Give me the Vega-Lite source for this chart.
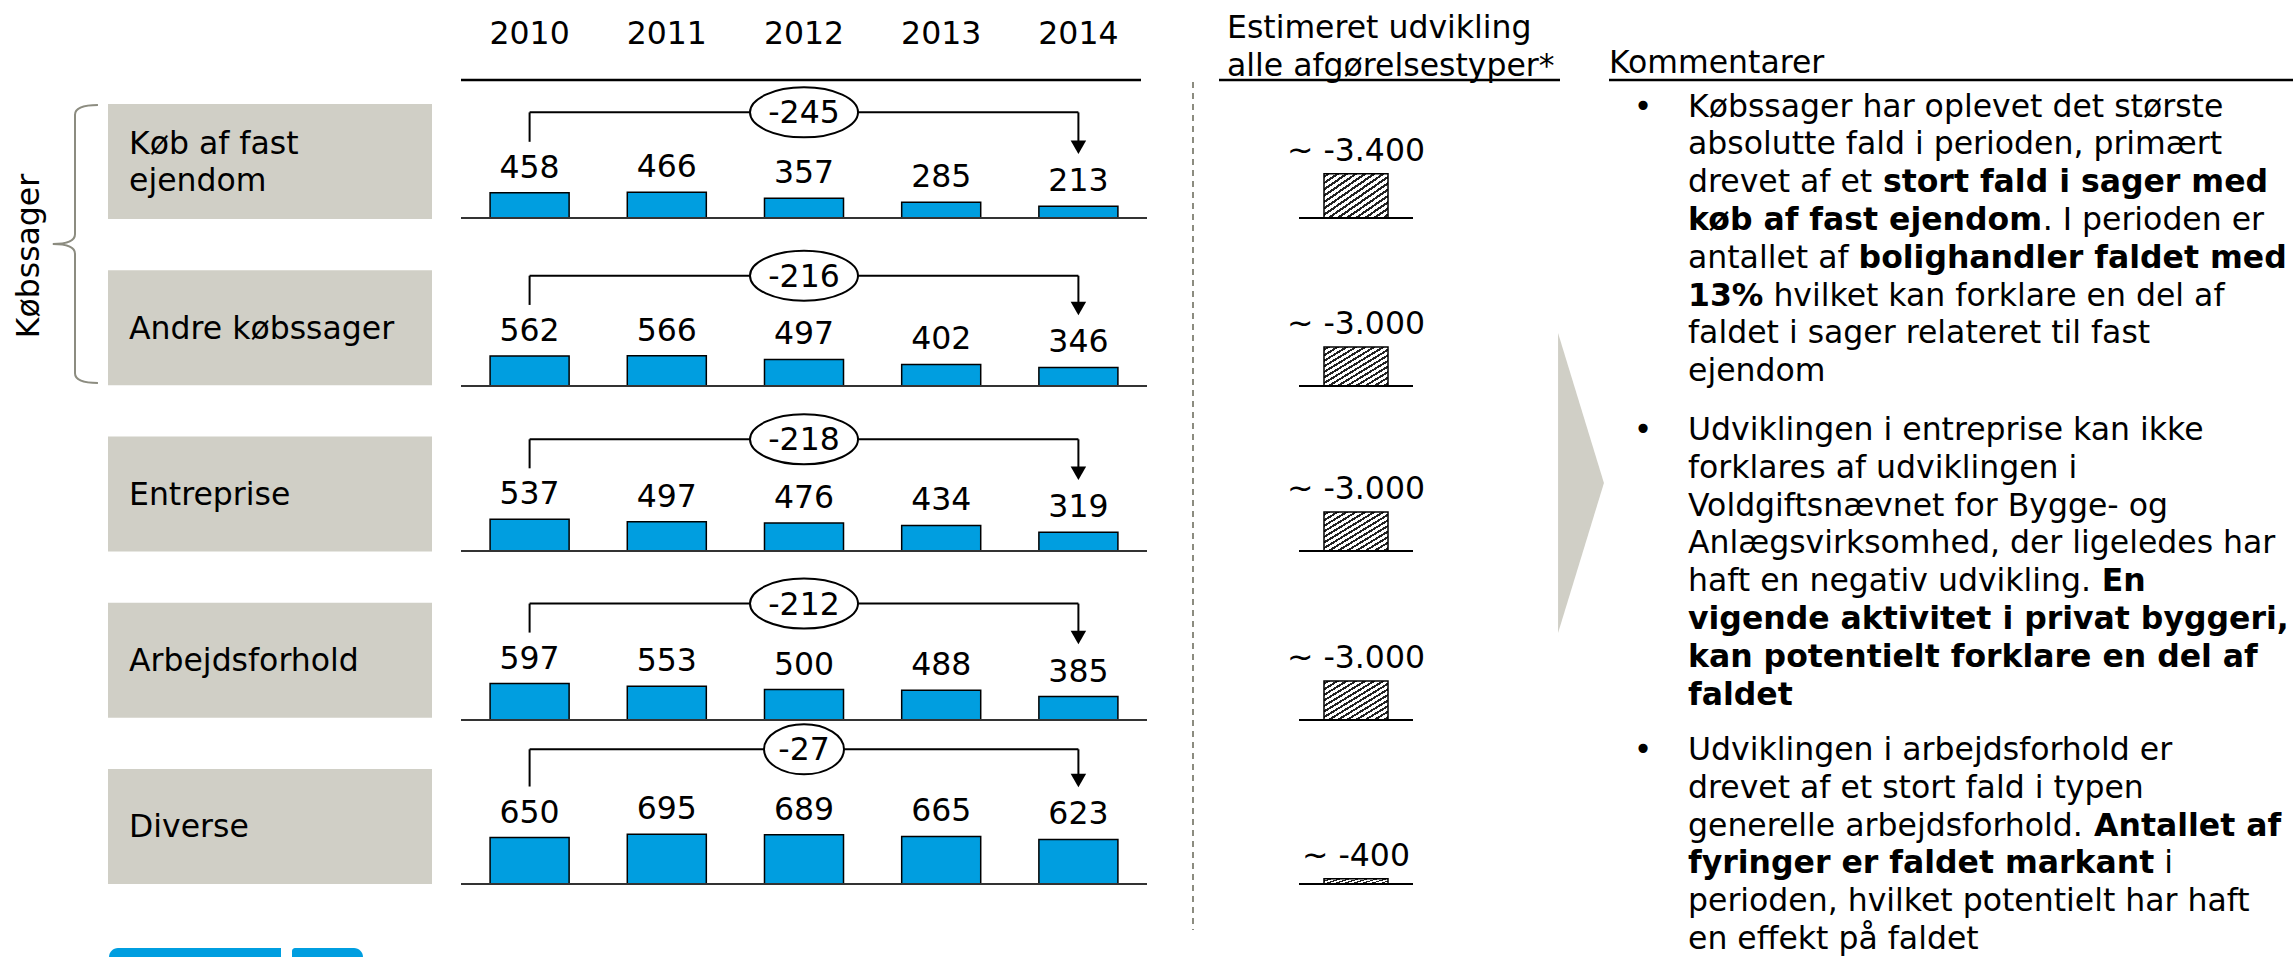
{
"$schema": "https://vega.github.io/schema/vega-lite/v6.json",
"width": 2293, "height": 957, "autosize": "none", "padding": 0, "background": "white",
"config": {"view": {"stroke": null}, "font": "DejaVu Sans", "text": {"font": "DejaVu Sans", "fontSize": 31.5, "color": "#000"}, "rule": {"color": "#000"}, "line": {"color": "#000"}},
"datasets": {
"bars": [
{"cat": "Køb af fast ejendom", "year": "2010", "value": 458},
{"cat": "Køb af fast ejendom", "year": "2011", "value": 466},
{"cat": "Køb af fast ejendom", "year": "2012", "value": 357},
{"cat": "Køb af fast ejendom", "year": "2013", "value": 285},
{"cat": "Køb af fast ejendom", "year": "2014", "value": 213},
{"cat": "Andre købssager", "year": "2010", "value": 562},
{"cat": "Andre købssager", "year": "2011", "value": 566},
{"cat": "Andre købssager", "year": "2012", "value": 497},
{"cat": "Andre købssager", "year": "2013", "value": 402},
{"cat": "Andre købssager", "year": "2014", "value": 346},
{"cat": "Entreprise", "year": "2010", "value": 537},
{"cat": "Entreprise", "year": "2011", "value": 497},
{"cat": "Entreprise", "year": "2012", "value": 476},
{"cat": "Entreprise", "year": "2013", "value": 434},
{"cat": "Entreprise", "year": "2014", "value": 319},
{"cat": "Arbejdsforhold", "year": "2010", "value": 597},
{"cat": "Arbejdsforhold", "year": "2011", "value": 553},
{"cat": "Arbejdsforhold", "year": "2012", "value": 500},
{"cat": "Arbejdsforhold", "year": "2013", "value": 488},
{"cat": "Arbejdsforhold", "year": "2014", "value": 385},
{"cat": "Diverse", "year": "2010", "value": 650},
{"cat": "Diverse", "year": "2011", "value": 695},
{"cat": "Diverse", "year": "2012", "value": 689},
{"cat": "Diverse", "year": "2013", "value": 665},
{"cat": "Diverse", "year": "2014", "value": 623}
],
"diffs": [
{"cat": "Køb af fast ejendom", "diff": -245},
{"cat": "Andre købssager", "diff": -216},
{"cat": "Entreprise", "diff": -218},
{"cat": "Arbejdsforhold", "diff": -212},
{"cat": "Diverse", "diff": -27}
],
"est": [
{"cat": "Køb af fast ejendom", "est": -3400, "label": "~ -3.400"},
{"cat": "Andre købssager", "est": -3000, "label": "~ -3.000"},
{"cat": "Entreprise", "est": -3000, "label": "~ -3.000"},
{"cat": "Arbejdsforhold", "est": -3000, "label": "~ -3.000"},
{"cat": "Diverse", "est": -400, "label": "~ -400"}
],
"cats": [
{"cat": "Køb af fast ejendom", "label": "Køb af fast\nejendom", "lines": 2},
{"cat": "Andre købssager", "label": "Andre købssager", "lines": 1},
{"cat": "Entreprise", "label": "Entreprise", "lines": 1},
{"cat": "Arbejdsforhold", "label": "Arbejdsforhold", "lines": 1},
{"cat": "Diverse", "label": "Diverse", "lines": 1}
],
"comments": [
{"p": 1, "ln": 0, "txt": "Købssager har oplevet det største", "bold": false, "tail": 0},
{"p": 1, "ln": 1, "txt": "absolutte fald i perioden, primært", "bold": false, "tail": 0},
{"p": 1, "ln": 2, "txt": "drevet af et", "bold": false, "tail": 0},
{"p": 1, "ln": 2, "txt": "stort fald i sager med", "bold": true, "tail": 1},
{"p": 1, "ln": 3, "txt": "køb af fast ejendom", "bold": true, "tail": 0},
{"p": 1, "ln": 3, "txt": ". I perioden er", "bold": false, "tail": 2},
{"p": 1, "ln": 4, "txt": "antallet af", "bold": false, "tail": 0},
{"p": 1, "ln": 4, "txt": "bolighandler faldet med", "bold": true, "tail": 3},
{"p": 1, "ln": 5, "txt": "13%", "bold": true, "tail": 0},
{"p": 1, "ln": 5, "txt": "hvilket kan forklare en del af", "bold": false, "tail": 4},
{"p": 1, "ln": 6, "txt": "faldet i sager relateret til fast", "bold": false, "tail": 0},
{"p": 1, "ln": 7, "txt": "ejendom", "bold": false, "tail": 0},
{"p": 2, "ln": 0, "txt": "Udviklingen i entreprise kan ikke", "bold": false, "tail": 0},
{"p": 2, "ln": 1, "txt": "forklares af udviklingen i", "bold": false, "tail": 0},
{"p": 2, "ln": 2, "txt": "Voldgiftsnævnet for Bygge- og", "bold": false, "tail": 0},
{"p": 2, "ln": 3, "txt": "Anlægsvirksomhed, der ligeledes har", "bold": false, "tail": 0},
{"p": 2, "ln": 4, "txt": "haft en negativ udvikling.", "bold": false, "tail": 0},
{"p": 2, "ln": 4, "txt": "En", "bold": true, "tail": 5},
{"p": 2, "ln": 5, "txt": "vigende aktivitet i privat byggeri,", "bold": true, "tail": 0},
{"p": 2, "ln": 6, "txt": "kan potentielt forklare en del af", "bold": true, "tail": 0},
{"p": 2, "ln": 7, "txt": "faldet", "bold": true, "tail": 0},
{"p": 3, "ln": 0, "txt": "Udviklingen i arbejdsforhold er", "bold": false, "tail": 0},
{"p": 3, "ln": 1, "txt": "drevet af et stort fald i typen", "bold": false, "tail": 0},
{"p": 3, "ln": 2, "txt": "generelle arbejdsforhold.", "bold": false, "tail": 0},
{"p": 3, "ln": 2, "txt": "Antallet af", "bold": true, "tail": 6},
{"p": 3, "ln": 3, "txt": "fyringer er faldet markant", "bold": true, "tail": 0},
{"p": 3, "ln": 3, "txt": "i", "bold": false, "tail": 7},
{"p": 3, "ln": 4, "txt": "perioden, hvilket potentielt har haft", "bold": false, "tail": 0},
{"p": 3, "ln": 5, "txt": "en effekt på faldet", "bold": false, "tail": 0}
]
},
"resolve": {"scale": {"x": "independent", "y": "independent"}},
"layer": [
{"data": {"name": "cats"}, "mark": {"type": "rect", "color": "#D0CFC6"},
 "encoding": {"y": {"field": "cat", "type": "nominal", "scale": {"type": "band", "domain": ["Køb af fast ejendom", "Andre købssager", "Entreprise", "Arbejdsforhold", "Diverse"], "range": [104, 884], "paddingInner": 0.308, "paddingOuter": 0}, "axis": null},
  "x": {"value": 108}, "x2": {"value": 432}}},
{"data": {"name": "cats"}, "transform": [{"filter": "datum.lines === 1"}], "mark": {"type": "text", "align": "left", "baseline": "middle", "dy": 2},
 "encoding": {"y": {"field": "cat", "type": "nominal", "scale": {"type": "band", "domain": ["Køb af fast ejendom", "Andre købssager", "Entreprise", "Arbejdsforhold", "Diverse"], "range": [104, 884], "paddingInner": 0.308, "paddingOuter": 0}, "axis": null},
  "x": {"value": 129}, "text": {"field": "label"}}},
{"data": {"name": "cats"}, "transform": [{"filter": "datum.lines === 2"}], "mark": {"type": "text", "align": "left", "baseline": "middle", "lineBreak": "\n", "lineHeight": 37, "dy": -16.5},
 "encoding": {"y": {"field": "cat", "type": "nominal", "scale": {"type": "band", "domain": ["Køb af fast ejendom", "Andre købssager", "Entreprise", "Arbejdsforhold", "Diverse"], "range": [104, 884], "paddingInner": 0.308, "paddingOuter": 0}, "axis": null},
  "x": {"value": 129}, "text": {"field": "label"}}},
{"data": {"values": [{"t": "Købssager"}]}, "mark": {"type": "text", "angle": 270, "align": "center", "baseline": "middle"},
 "encoding": {"x": {"value": 30}, "y": {"value": 256}, "text": {"field": "t"}}},
{"data": {"values": [{"t": "brace"}]}, "mark": {"type": "point", "shape": "M0.165,-1Q0,-1 0,-0.93L0,-0.07Q0,0 -0.16,0Q0,0 0,0.07L0,0.93Q0,1 0.165,1", "size": 77284, "filled": false, "stroke": "#8C8C80", "strokeWidth": 2, "opacity": 1},
 "encoding": {"x": {"value": 75}, "y": {"value": 244}}},
{"data": {"values": [{"t": "arrow"}]}, "mark": {"type": "point", "shape": "M-0.153,-1L0.153,0L-0.153,1Z", "size": 90000, "filled": true, "fill": "#D0CFC6", "strokeWidth": 0, "opacity": 1},
 "encoding": {"x": {"value": 1581}, "y": {"value": 483}}},
{"data": {"values": [{"t": "sep"}]}, "mark": {"type": "rule", "color": "#8C8C80", "strokeWidth": 2, "strokeDash": [6, 5]},
 "encoding": {"x": {"value": 1193}, "y": {"value": 82}, "y2": {"value": 930}}},
{"data": {"values": [{"t": "r1"}]}, "mark": {"type": "rule", "strokeWidth": 2.5},
 "encoding": {"x": {"value": 461}, "x2": {"value": 1141}, "y": {"value": 80}}},
{"data": {"values": [{"t": "r2"}]}, "mark": {"type": "rule", "strokeWidth": 2.5},
 "encoding": {"x": {"value": 1219}, "x2": {"value": 1560}, "y": {"value": 80}}},
{"data": {"values": [{"t": "r3"}]}, "mark": {"type": "rule", "strokeWidth": 2.5},
 "encoding": {"x": {"value": 1609}, "x2": {"value": 2293}, "y": {"value": 80}}},
{"data": {"name": "bars"}, "transform": [{"filter": "datum.cat === 'Diverse'"}], "mark": {"type": "text", "baseline": "middle"},
 "encoding": {"x": {"field": "year", "type": "nominal", "scale": {"domain": ["2010","2011","2012","2013","2014"], "range": [461, 1147], "paddingInner": 0.424, "paddingOuter": 0.212}, "axis": null}, "y": {"value": 35}, "text": {"field": "year"}}},
{"data": {"values": [{"t": "Estimeret udvikling\nalle afgørelsestyper*"}]}, "mark": {"type": "text", "align": "left", "baseline": "middle", "lineBreak": "\n", "lineHeight": 38},
 "encoding": {"x": {"value": 1227}, "y": {"value": 29}, "text": {"field": "t"}}},
{"data": {"values": [{"t": "Kommentarer"}]}, "mark": {"type": "text", "align": "left", "baseline": "alphabetic"},
 "encoding": {"x": {"value": 1609}, "y": {"value": 73}, "text": {"field": "t"}}},
{"data": {"values": [{"t": "logo1"}]}, "mark": {"type": "rect", "color": "#009EE0", "cornerRadiusTopLeft": 10},
 "encoding": {"x": {"value": 109}, "x2": {"value": 281}, "y": {"value": 948}, "y2": {"value": 966}}},
{"data": {"values": [{"t": "logo2"}]}, "mark": {"type": "rect", "color": "#009EE0", "cornerRadiusTopRight": 10, "cornerRadiusTopLeft": 3},
 "encoding": {"x": {"value": 292}, "x2": {"value": 363}, "y": {"value": 948}, "y2": {"value": 966}}},

{"data": {"name": "comments"}, "transform": [{"filter": "datum.p === 1"}],
 "encoding": {"x": {"value": 1688}, "y": {"field": "ln", "type": "quantitative", "scale": {"domain": [0, 7], "range": [116.5, 381.1]}, "axis": null}, "text": {"field": "txt"}},
 "layer": [
  {"transform": [{"filter": "datum.tail === 0 && !datum.bold"}], "mark": {"type": "text", "align": "left", "baseline": "alphabetic"}},
  {"transform": [{"filter": "datum.tail === 0 && datum.bold"}], "mark": {"type": "text", "align": "left", "baseline": "alphabetic", "fontWeight": "bold"}},
  {"transform": [{"filter": "datum.ln === 0"}], "mark": {"type": "text", "align": "center", "baseline": "alphabetic"}, "encoding": {"x": {"value": 1643}, "text": {"value": "•"}}},
  {"transform": [{"filter": "datum.tail === 1"}], "mark": {"type": "text", "align": "left", "baseline": "alphabetic", "fontWeight": "bold", "dx": 194.9}},
  {"transform": [{"filter": "datum.tail === 2"}], "mark": {"type": "text", "align": "left", "baseline": "alphabetic", "dx": 354.7}},
  {"transform": [{"filter": "datum.tail === 3"}], "mark": {"type": "text", "align": "left", "baseline": "alphabetic", "fontWeight": "bold", "dx": 170.6}},
  {"transform": [{"filter": "datum.tail === 4"}], "mark": {"type": "text", "align": "left", "baseline": "alphabetic", "dx": 85.4}}
 ]},
{"data": {"name": "comments"}, "transform": [{"filter": "datum.p === 2"}],
 "encoding": {"x": {"value": 1688}, "y": {"field": "ln", "type": "quantitative", "scale": {"domain": [0, 7], "range": [440, 704.6]}, "axis": null}, "text": {"field": "txt"}},
 "layer": [
  {"transform": [{"filter": "datum.tail === 0 && !datum.bold"}], "mark": {"type": "text", "align": "left", "baseline": "alphabetic"}},
  {"transform": [{"filter": "datum.tail === 0 && datum.bold"}], "mark": {"type": "text", "align": "left", "baseline": "alphabetic", "fontWeight": "bold"}},
  {"transform": [{"filter": "datum.ln === 0"}], "mark": {"type": "text", "align": "center", "baseline": "alphabetic"}, "encoding": {"x": {"value": 1643}, "text": {"value": "•"}}},
  {"transform": [{"filter": "datum.tail === 5"}], "mark": {"type": "text", "align": "left", "baseline": "alphabetic", "fontWeight": "bold", "dx": 413.7}}
 ]},
{"data": {"name": "comments"}, "transform": [{"filter": "datum.p === 3"}],
 "encoding": {"x": {"value": 1688}, "y": {"field": "ln", "type": "quantitative", "scale": {"domain": [0, 7], "range": [760, 1024.6]}, "axis": null}, "text": {"field": "txt"}},
 "layer": [
  {"transform": [{"filter": "datum.tail === 0 && !datum.bold"}], "mark": {"type": "text", "align": "left", "baseline": "alphabetic"}},
  {"transform": [{"filter": "datum.tail === 0 && datum.bold"}], "mark": {"type": "text", "align": "left", "baseline": "alphabetic", "fontWeight": "bold"}},
  {"transform": [{"filter": "datum.ln === 0"}], "mark": {"type": "text", "align": "center", "baseline": "alphabetic"}, "encoding": {"x": {"value": 1643}, "text": {"value": "•"}}},
  {"transform": [{"filter": "datum.tail === 6"}], "mark": {"type": "text", "align": "left", "baseline": "alphabetic", "fontWeight": "bold", "dx": 406.1}},
  {"transform": [{"filter": "datum.tail === 7"}], "mark": {"type": "text", "align": "left", "baseline": "alphabetic", "dx": 476.3}}
 ]},

{"data": {"name": "bars"},
 "transform": [{"filter": "datum.cat === 'Køb af fast ejendom'"}, {"joinaggregate": [{"op": "max", "field": "value", "as": "maxv"}]}, {"lookup": "cat", "from": {"data": {"name": "diffs"}, "key": "cat", "fields": ["diff"]}}],
 "encoding": {"x": {"field": "year", "type": "nominal", "scale": {"domain": ["2010","2011","2012","2013","2014"], "range": [461, 1147], "paddingInner": 0.424, "paddingOuter": 0.212}, "axis": null},
  "y": {"field": "value", "type": "quantitative", "scale": {"domain": [0, 2000], "range": [218, 108]}, "axis": null}},
 "layer": [
  {"mark": {"type": "bar", "fill": "#009EE0", "stroke": "#000", "strokeWidth": 1.5}},
  {"mark": {"type": "text", "baseline": "middle", "dy": -24}, "encoding": {"text": {"field": "value", "type": "nominal"}}},
  {"transform": [{"filter": "datum.year === '2010'"}], "mark": {"type": "rule", "color": "#333", "strokeWidth": 2}, "encoding": {"x": {"value": 461}, "x2": {"value": 1147}, "y": {"datum": 0, "type": "quantitative", "scale": {"domain": [0, 2000], "range": [218, 108]}, "axis": null}}},
  {"transform": [{"filter": "datum.year === '2010'"}], "mark": {"type": "rule", "strokeWidth": 2, "yOffset": -51, "y2Offset": -80}, "encoding": {"y2": {"field": "maxv"}}},
  {"transform": [{"filter": "datum.year === '2014'"}], "mark": {"type": "rule", "strokeWidth": 2, "yOffset": -64, "y2Offset": -80}, "encoding": {"y2": {"field": "maxv"}}},
  {"transform": [{"filter": "datum.year === '2010' || datum.year === '2014'"}], "mark": {"type": "line", "strokeWidth": 2, "yOffset": -80}, "encoding": {"y": {"field": "maxv", "type": "quantitative", "scale": {"domain": [0, 2000], "range": [218, 108]}, "axis": null}}},
  {"transform": [{"filter": "datum.year === '2014'"}], "mark": {"type": "point", "shape": "triangle-down", "size": 240, "filled": true, "color": "#000", "opacity": 1, "yOffset": -59}},
  {"transform": [{"filter": "datum.year === '2012'"}], "mark": {"type": "point", "shape": "M-1,0A1,0.463 0 1,1 1,0A1,0.463 0 1,1 -1,0Z", "size": 11664, "filled": true, "fill": "#fff", "stroke": "#000", "strokeWidth": 2, "opacity": 1, "yOffset": -80}, "encoding": {"y": {"field": "maxv", "type": "quantitative", "scale": {"domain": [0, 2000], "range": [218, 108]}, "axis": null}}},
  {"transform": [{"filter": "datum.year === '2012'"}], "mark": {"type": "text", "baseline": "middle", "dy": 2, "yOffset": -80}, "encoding": {"y": {"field": "maxv", "type": "quantitative", "scale": {"domain": [0, 2000], "range": [218, 108]}, "axis": null}, "text": {"field": "diff", "type": "nominal"}}}
 ]},

{"data": {"name": "bars"},
 "transform": [{"filter": "datum.cat === 'Andre købssager'"}, {"joinaggregate": [{"op": "max", "field": "value", "as": "maxv"}]}, {"lookup": "cat", "from": {"data": {"name": "diffs"}, "key": "cat", "fields": ["diff"]}}],
 "encoding": {"x": {"field": "year", "type": "nominal", "scale": {"domain": ["2010","2011","2012","2013","2014"], "range": [461, 1147], "paddingInner": 0.424, "paddingOuter": 0.212}, "axis": null},
  "y": {"field": "value", "type": "quantitative", "scale": {"domain": [0, 2000], "range": [386, 279]}, "axis": null}},
 "layer": [
  {"mark": {"type": "bar", "fill": "#009EE0", "stroke": "#000", "strokeWidth": 1.5}},
  {"mark": {"type": "text", "baseline": "middle", "dy": -24}, "encoding": {"text": {"field": "value", "type": "nominal"}}},
  {"transform": [{"filter": "datum.year === '2010'"}], "mark": {"type": "rule", "color": "#333", "strokeWidth": 2}, "encoding": {"x": {"value": 461}, "x2": {"value": 1147}, "y": {"datum": 0, "type": "quantitative", "scale": {"domain": [0, 2000], "range": [386, 279]}, "axis": null}}},
  {"transform": [{"filter": "datum.year === '2010'"}], "mark": {"type": "rule", "strokeWidth": 2, "yOffset": -51, "y2Offset": -80}, "encoding": {"y2": {"field": "maxv"}}},
  {"transform": [{"filter": "datum.year === '2014'"}], "mark": {"type": "rule", "strokeWidth": 2, "yOffset": -64, "y2Offset": -80}, "encoding": {"y2": {"field": "maxv"}}},
  {"transform": [{"filter": "datum.year === '2010' || datum.year === '2014'"}], "mark": {"type": "line", "strokeWidth": 2, "yOffset": -80}, "encoding": {"y": {"field": "maxv", "type": "quantitative", "scale": {"domain": [0, 2000], "range": [386, 279]}, "axis": null}}},
  {"transform": [{"filter": "datum.year === '2014'"}], "mark": {"type": "point", "shape": "triangle-down", "size": 240, "filled": true, "color": "#000", "opacity": 1, "yOffset": -59}},
  {"transform": [{"filter": "datum.year === '2012'"}], "mark": {"type": "point", "shape": "M-1,0A1,0.463 0 1,1 1,0A1,0.463 0 1,1 -1,0Z", "size": 11664, "filled": true, "fill": "#fff", "stroke": "#000", "strokeWidth": 2, "opacity": 1, "yOffset": -80}, "encoding": {"y": {"field": "maxv", "type": "quantitative", "scale": {"domain": [0, 2000], "range": [386, 279]}, "axis": null}}},
  {"transform": [{"filter": "datum.year === '2012'"}], "mark": {"type": "text", "baseline": "middle", "dy": 2, "yOffset": -80}, "encoding": {"y": {"field": "maxv", "type": "quantitative", "scale": {"domain": [0, 2000], "range": [386, 279]}, "axis": null}, "text": {"field": "diff", "type": "nominal"}}}
 ]},

{"data": {"name": "bars"},
 "transform": [{"filter": "datum.cat === 'Entreprise'"}, {"joinaggregate": [{"op": "max", "field": "value", "as": "maxv"}]}, {"lookup": "cat", "from": {"data": {"name": "diffs"}, "key": "cat", "fields": ["diff"]}}],
 "encoding": {"x": {"field": "year", "type": "nominal", "scale": {"domain": ["2010","2011","2012","2013","2014"], "range": [461, 1147], "paddingInner": 0.424, "paddingOuter": 0.212}, "axis": null},
  "y": {"field": "value", "type": "quantitative", "scale": {"domain": [0, 2000], "range": [551, 433]}, "axis": null}},
 "layer": [
  {"mark": {"type": "bar", "fill": "#009EE0", "stroke": "#000", "strokeWidth": 1.5}},
  {"mark": {"type": "text", "baseline": "middle", "dy": -24}, "encoding": {"text": {"field": "value", "type": "nominal"}}},
  {"transform": [{"filter": "datum.year === '2010'"}], "mark": {"type": "rule", "color": "#333", "strokeWidth": 2}, "encoding": {"x": {"value": 461}, "x2": {"value": 1147}, "y": {"datum": 0, "type": "quantitative", "scale": {"domain": [0, 2000], "range": [551, 433]}, "axis": null}}},
  {"transform": [{"filter": "datum.year === '2010'"}], "mark": {"type": "rule", "strokeWidth": 2, "yOffset": -51, "y2Offset": -80}, "encoding": {"y2": {"field": "maxv"}}},
  {"transform": [{"filter": "datum.year === '2014'"}], "mark": {"type": "rule", "strokeWidth": 2, "yOffset": -64, "y2Offset": -80}, "encoding": {"y2": {"field": "maxv"}}},
  {"transform": [{"filter": "datum.year === '2010' || datum.year === '2014'"}], "mark": {"type": "line", "strokeWidth": 2, "yOffset": -80}, "encoding": {"y": {"field": "maxv", "type": "quantitative", "scale": {"domain": [0, 2000], "range": [551, 433]}, "axis": null}}},
  {"transform": [{"filter": "datum.year === '2014'"}], "mark": {"type": "point", "shape": "triangle-down", "size": 240, "filled": true, "color": "#000", "opacity": 1, "yOffset": -59}},
  {"transform": [{"filter": "datum.year === '2012'"}], "mark": {"type": "point", "shape": "M-1,0A1,0.463 0 1,1 1,0A1,0.463 0 1,1 -1,0Z", "size": 11664, "filled": true, "fill": "#fff", "stroke": "#000", "strokeWidth": 2, "opacity": 1, "yOffset": -80}, "encoding": {"y": {"field": "maxv", "type": "quantitative", "scale": {"domain": [0, 2000], "range": [551, 433]}, "axis": null}}},
  {"transform": [{"filter": "datum.year === '2012'"}], "mark": {"type": "text", "baseline": "middle", "dy": 2, "yOffset": -80}, "encoding": {"y": {"field": "maxv", "type": "quantitative", "scale": {"domain": [0, 2000], "range": [551, 433]}, "axis": null}, "text": {"field": "diff", "type": "nominal"}}}
 ]},

{"data": {"name": "bars"},
 "transform": [{"filter": "datum.cat === 'Arbejdsforhold'"}, {"joinaggregate": [{"op": "max", "field": "value", "as": "maxv"}]}, {"lookup": "cat", "from": {"data": {"name": "diffs"}, "key": "cat", "fields": ["diff"]}}],
 "encoding": {"x": {"field": "year", "type": "nominal", "scale": {"domain": ["2010","2011","2012","2013","2014"], "range": [461, 1147], "paddingInner": 0.424, "paddingOuter": 0.212}, "axis": null},
  "y": {"field": "value", "type": "quantitative", "scale": {"domain": [0, 2000], "range": [720, 598]}, "axis": null}},
 "layer": [
  {"mark": {"type": "bar", "fill": "#009EE0", "stroke": "#000", "strokeWidth": 1.5}},
  {"mark": {"type": "text", "baseline": "middle", "dy": -24}, "encoding": {"text": {"field": "value", "type": "nominal"}}},
  {"transform": [{"filter": "datum.year === '2010'"}], "mark": {"type": "rule", "color": "#333", "strokeWidth": 2}, "encoding": {"x": {"value": 461}, "x2": {"value": 1147}, "y": {"datum": 0, "type": "quantitative", "scale": {"domain": [0, 2000], "range": [720, 598]}, "axis": null}}},
  {"transform": [{"filter": "datum.year === '2010'"}], "mark": {"type": "rule", "strokeWidth": 2, "yOffset": -51, "y2Offset": -80}, "encoding": {"y2": {"field": "maxv"}}},
  {"transform": [{"filter": "datum.year === '2014'"}], "mark": {"type": "rule", "strokeWidth": 2, "yOffset": -64, "y2Offset": -80}, "encoding": {"y2": {"field": "maxv"}}},
  {"transform": [{"filter": "datum.year === '2010' || datum.year === '2014'"}], "mark": {"type": "line", "strokeWidth": 2, "yOffset": -80}, "encoding": {"y": {"field": "maxv", "type": "quantitative", "scale": {"domain": [0, 2000], "range": [720, 598]}, "axis": null}}},
  {"transform": [{"filter": "datum.year === '2014'"}], "mark": {"type": "point", "shape": "triangle-down", "size": 240, "filled": true, "color": "#000", "opacity": 1, "yOffset": -59}},
  {"transform": [{"filter": "datum.year === '2012'"}], "mark": {"type": "point", "shape": "M-1,0A1,0.463 0 1,1 1,0A1,0.463 0 1,1 -1,0Z", "size": 11664, "filled": true, "fill": "#fff", "stroke": "#000", "strokeWidth": 2, "opacity": 1, "yOffset": -80}, "encoding": {"y": {"field": "maxv", "type": "quantitative", "scale": {"domain": [0, 2000], "range": [720, 598]}, "axis": null}}},
  {"transform": [{"filter": "datum.year === '2012'"}], "mark": {"type": "text", "baseline": "middle", "dy": 2, "yOffset": -80}, "encoding": {"y": {"field": "maxv", "type": "quantitative", "scale": {"domain": [0, 2000], "range": [720, 598]}, "axis": null}, "text": {"field": "diff", "type": "nominal"}}}
 ]},

{"data": {"name": "bars"},
 "transform": [{"filter": "datum.cat === 'Diverse'"}, {"joinaggregate": [{"op": "max", "field": "value", "as": "maxv"}]}, {"lookup": "cat", "from": {"data": {"name": "diffs"}, "key": "cat", "fields": ["diff"]}}],
 "encoding": {"x": {"field": "year", "type": "nominal", "scale": {"domain": ["2010","2011","2012","2013","2014"], "range": [461, 1147], "paddingInner": 0.424, "paddingOuter": 0.212}, "axis": null},
  "y": {"field": "value", "type": "quantitative", "scale": {"domain": [0, 2000], "range": [884, 741]}, "axis": null}},
 "layer": [
  {"mark": {"type": "bar", "fill": "#009EE0", "stroke": "#000", "strokeWidth": 1.5}},
  {"mark": {"type": "text", "baseline": "middle", "dy": -24}, "encoding": {"text": {"field": "value", "type": "nominal"}}},
  {"transform": [{"filter": "datum.year === '2010'"}], "mark": {"type": "rule", "color": "#333", "strokeWidth": 2}, "encoding": {"x": {"value": 461}, "x2": {"value": 1147}, "y": {"datum": 0, "type": "quantitative", "scale": {"domain": [0, 2000], "range": [884, 741]}, "axis": null}}},
  {"transform": [{"filter": "datum.year === '2010'"}], "mark": {"type": "rule", "strokeWidth": 2, "yOffset": -51, "y2Offset": -85}, "encoding": {"y2": {"field": "maxv"}}},
  {"transform": [{"filter": "datum.year === '2014'"}], "mark": {"type": "rule", "strokeWidth": 2, "yOffset": -64, "y2Offset": -85}, "encoding": {"y2": {"field": "maxv"}}},
  {"transform": [{"filter": "datum.year === '2010' || datum.year === '2014'"}], "mark": {"type": "line", "strokeWidth": 2, "yOffset": -85}, "encoding": {"y": {"field": "maxv", "type": "quantitative", "scale": {"domain": [0, 2000], "range": [884, 741]}, "axis": null}}},
  {"transform": [{"filter": "datum.year === '2014'"}], "mark": {"type": "point", "shape": "triangle-down", "size": 240, "filled": true, "color": "#000", "opacity": 1, "yOffset": -59}},
  {"transform": [{"filter": "datum.year === '2012'"}], "mark": {"type": "point", "shape": "M-1,0A1,0.625 0 1,1 1,0A1,0.625 0 1,1 -1,0Z", "size": 6400, "filled": true, "fill": "#fff", "stroke": "#000", "strokeWidth": 2, "opacity": 1, "yOffset": -85}, "encoding": {"y": {"field": "maxv", "type": "quantitative", "scale": {"domain": [0, 2000], "range": [884, 741]}, "axis": null}}},
  {"transform": [{"filter": "datum.year === '2012'"}], "mark": {"type": "text", "baseline": "middle", "dy": 2, "yOffset": -85}, "encoding": {"y": {"field": "maxv", "type": "quantitative", "scale": {"domain": [0, 2000], "range": [884, 741]}, "axis": null}, "text": {"field": "diff", "type": "nominal"}}}
 ]},

{"data": {"name": "est"}, "transform": [{"filter": "datum.cat === 'Køb af fast ejendom'"}],
 "encoding": {"x": {"field": "cat", "type": "nominal", "scale": {"range": [1324, 1388], "paddingInner": 0, "paddingOuter": 0}, "axis": null},
  "y": {"field": "est", "type": "quantitative", "scale": {"domain": [0, -4000], "range": [218, 166]}, "axis": null}},
 "layer": [
  {"mark": {"type": "bar", "stroke": "#000", "strokeWidth": 1.5, "fill": {"gradient": "linear", "x1": 0, "y1": 0, "x2": 1, "y2": 1, "stops": [{"offset": 0, "color": "#fff"}, {"offset": 0.02, "color": "#fff"}, {"offset": 0.02, "color": "#222"}, {"offset": 0.05, "color": "#222"}, {"offset": 0.05, "color": "#fff"}, {"offset": 0.0914, "color": "#fff"}, {"offset": 0.0914, "color": "#222"}, {"offset": 0.1214, "color": "#222"}, {"offset": 0.1214, "color": "#fff"}, {"offset": 0.1629, "color": "#fff"}, {"offset": 0.1629, "color": "#222"}, {"offset": 0.1929, "color": "#222"}, {"offset": 0.1929, "color": "#fff"}, {"offset": 0.2343, "color": "#fff"}, {"offset": 0.2343, "color": "#222"}, {"offset": 0.2643, "color": "#222"}, {"offset": 0.2643, "color": "#fff"}, {"offset": 0.3057, "color": "#fff"}, {"offset": 0.3057, "color": "#222"}, {"offset": 0.3357, "color": "#222"}, {"offset": 0.3357, "color": "#fff"}, {"offset": 0.3771, "color": "#fff"}, {"offset": 0.3771, "color": "#222"}, {"offset": 0.4071, "color": "#222"}, {"offset": 0.4071, "color": "#fff"}, {"offset": 0.4486, "color": "#fff"}, {"offset": 0.4486, "color": "#222"}, {"offset": 0.4786, "color": "#222"}, {"offset": 0.4786, "color": "#fff"}, {"offset": 0.52, "color": "#fff"}, {"offset": 0.52, "color": "#222"}, {"offset": 0.55, "color": "#222"}, {"offset": 0.55, "color": "#fff"}, {"offset": 0.5914, "color": "#fff"}, {"offset": 0.5914, "color": "#222"}, {"offset": 0.6214, "color": "#222"}, {"offset": 0.6214, "color": "#fff"}, {"offset": 0.6629, "color": "#fff"}, {"offset": 0.6629, "color": "#222"}, {"offset": 0.6929, "color": "#222"}, {"offset": 0.6929, "color": "#fff"}, {"offset": 0.7343, "color": "#fff"}, {"offset": 0.7343, "color": "#222"}, {"offset": 0.7643, "color": "#222"}, {"offset": 0.7643, "color": "#fff"}, {"offset": 0.8057, "color": "#fff"}, {"offset": 0.8057, "color": "#222"}, {"offset": 0.8357, "color": "#222"}, {"offset": 0.8357, "color": "#fff"}, {"offset": 0.8771, "color": "#fff"}, {"offset": 0.8771, "color": "#222"}, {"offset": 0.9071, "color": "#222"}, {"offset": 0.9071, "color": "#fff"}, {"offset": 0.9486, "color": "#fff"}, {"offset": 0.9486, "color": "#222"}, {"offset": 0.9786, "color": "#222"}, {"offset": 0.9786, "color": "#fff"}, {"offset": 1, "color": "#fff"}]}}},
  {"mark": {"type": "text", "baseline": "middle", "dy": -22}, "encoding": {"text": {"field": "label"}}},
  {"mark": {"type": "rule", "strokeWidth": 2}, "encoding": {"x": {"value": 1299}, "x2": {"value": 1413}, "y": {"datum": 0, "type": "quantitative", "scale": {"domain": [0, -4000], "range": [218, 166]}, "axis": null}}}
 ]},
{"data": {"name": "est"}, "transform": [{"filter": "datum.cat === 'Andre købssager'"}],
 "encoding": {"x": {"field": "cat", "type": "nominal", "scale": {"range": [1324, 1388], "paddingInner": 0, "paddingOuter": 0}, "axis": null},
  "y": {"field": "est", "type": "quantitative", "scale": {"domain": [0, -4000], "range": [386, 334]}, "axis": null}},
 "layer": [
  {"mark": {"type": "bar", "stroke": "#000", "strokeWidth": 1.5, "fill": {"gradient": "linear", "x1": 0, "y1": 0, "x2": 1, "y2": 1, "stops": [{"offset": 0, "color": "#fff"}, {"offset": 0.02, "color": "#fff"}, {"offset": 0.02, "color": "#222"}, {"offset": 0.05, "color": "#222"}, {"offset": 0.05, "color": "#fff"}, {"offset": 0.0914, "color": "#fff"}, {"offset": 0.0914, "color": "#222"}, {"offset": 0.1214, "color": "#222"}, {"offset": 0.1214, "color": "#fff"}, {"offset": 0.1629, "color": "#fff"}, {"offset": 0.1629, "color": "#222"}, {"offset": 0.1929, "color": "#222"}, {"offset": 0.1929, "color": "#fff"}, {"offset": 0.2343, "color": "#fff"}, {"offset": 0.2343, "color": "#222"}, {"offset": 0.2643, "color": "#222"}, {"offset": 0.2643, "color": "#fff"}, {"offset": 0.3057, "color": "#fff"}, {"offset": 0.3057, "color": "#222"}, {"offset": 0.3357, "color": "#222"}, {"offset": 0.3357, "color": "#fff"}, {"offset": 0.3771, "color": "#fff"}, {"offset": 0.3771, "color": "#222"}, {"offset": 0.4071, "color": "#222"}, {"offset": 0.4071, "color": "#fff"}, {"offset": 0.4486, "color": "#fff"}, {"offset": 0.4486, "color": "#222"}, {"offset": 0.4786, "color": "#222"}, {"offset": 0.4786, "color": "#fff"}, {"offset": 0.52, "color": "#fff"}, {"offset": 0.52, "color": "#222"}, {"offset": 0.55, "color": "#222"}, {"offset": 0.55, "color": "#fff"}, {"offset": 0.5914, "color": "#fff"}, {"offset": 0.5914, "color": "#222"}, {"offset": 0.6214, "color": "#222"}, {"offset": 0.6214, "color": "#fff"}, {"offset": 0.6629, "color": "#fff"}, {"offset": 0.6629, "color": "#222"}, {"offset": 0.6929, "color": "#222"}, {"offset": 0.6929, "color": "#fff"}, {"offset": 0.7343, "color": "#fff"}, {"offset": 0.7343, "color": "#222"}, {"offset": 0.7643, "color": "#222"}, {"offset": 0.7643, "color": "#fff"}, {"offset": 0.8057, "color": "#fff"}, {"offset": 0.8057, "color": "#222"}, {"offset": 0.8357, "color": "#222"}, {"offset": 0.8357, "color": "#fff"}, {"offset": 0.8771, "color": "#fff"}, {"offset": 0.8771, "color": "#222"}, {"offset": 0.9071, "color": "#222"}, {"offset": 0.9071, "color": "#fff"}, {"offset": 0.9486, "color": "#fff"}, {"offset": 0.9486, "color": "#222"}, {"offset": 0.9786, "color": "#222"}, {"offset": 0.9786, "color": "#fff"}, {"offset": 1, "color": "#fff"}]}}},
  {"mark": {"type": "text", "baseline": "middle", "dy": -22}, "encoding": {"text": {"field": "label"}}},
  {"mark": {"type": "rule", "strokeWidth": 2}, "encoding": {"x": {"value": 1299}, "x2": {"value": 1413}, "y": {"datum": 0, "type": "quantitative", "scale": {"domain": [0, -4000], "range": [386, 334]}, "axis": null}}}
 ]},
{"data": {"name": "est"}, "transform": [{"filter": "datum.cat === 'Entreprise'"}],
 "encoding": {"x": {"field": "cat", "type": "nominal", "scale": {"range": [1324, 1388], "paddingInner": 0, "paddingOuter": 0}, "axis": null},
  "y": {"field": "est", "type": "quantitative", "scale": {"domain": [0, -4000], "range": [551, 499]}, "axis": null}},
 "layer": [
  {"mark": {"type": "bar", "stroke": "#000", "strokeWidth": 1.5, "fill": {"gradient": "linear", "x1": 0, "y1": 0, "x2": 1, "y2": 1, "stops": [{"offset": 0, "color": "#fff"}, {"offset": 0.02, "color": "#fff"}, {"offset": 0.02, "color": "#222"}, {"offset": 0.05, "color": "#222"}, {"offset": 0.05, "color": "#fff"}, {"offset": 0.0914, "color": "#fff"}, {"offset": 0.0914, "color": "#222"}, {"offset": 0.1214, "color": "#222"}, {"offset": 0.1214, "color": "#fff"}, {"offset": 0.1629, "color": "#fff"}, {"offset": 0.1629, "color": "#222"}, {"offset": 0.1929, "color": "#222"}, {"offset": 0.1929, "color": "#fff"}, {"offset": 0.2343, "color": "#fff"}, {"offset": 0.2343, "color": "#222"}, {"offset": 0.2643, "color": "#222"}, {"offset": 0.2643, "color": "#fff"}, {"offset": 0.3057, "color": "#fff"}, {"offset": 0.3057, "color": "#222"}, {"offset": 0.3357, "color": "#222"}, {"offset": 0.3357, "color": "#fff"}, {"offset": 0.3771, "color": "#fff"}, {"offset": 0.3771, "color": "#222"}, {"offset": 0.4071, "color": "#222"}, {"offset": 0.4071, "color": "#fff"}, {"offset": 0.4486, "color": "#fff"}, {"offset": 0.4486, "color": "#222"}, {"offset": 0.4786, "color": "#222"}, {"offset": 0.4786, "color": "#fff"}, {"offset": 0.52, "color": "#fff"}, {"offset": 0.52, "color": "#222"}, {"offset": 0.55, "color": "#222"}, {"offset": 0.55, "color": "#fff"}, {"offset": 0.5914, "color": "#fff"}, {"offset": 0.5914, "color": "#222"}, {"offset": 0.6214, "color": "#222"}, {"offset": 0.6214, "color": "#fff"}, {"offset": 0.6629, "color": "#fff"}, {"offset": 0.6629, "color": "#222"}, {"offset": 0.6929, "color": "#222"}, {"offset": 0.6929, "color": "#fff"}, {"offset": 0.7343, "color": "#fff"}, {"offset": 0.7343, "color": "#222"}, {"offset": 0.7643, "color": "#222"}, {"offset": 0.7643, "color": "#fff"}, {"offset": 0.8057, "color": "#fff"}, {"offset": 0.8057, "color": "#222"}, {"offset": 0.8357, "color": "#222"}, {"offset": 0.8357, "color": "#fff"}, {"offset": 0.8771, "color": "#fff"}, {"offset": 0.8771, "color": "#222"}, {"offset": 0.9071, "color": "#222"}, {"offset": 0.9071, "color": "#fff"}, {"offset": 0.9486, "color": "#fff"}, {"offset": 0.9486, "color": "#222"}, {"offset": 0.9786, "color": "#222"}, {"offset": 0.9786, "color": "#fff"}, {"offset": 1, "color": "#fff"}]}}},
  {"mark": {"type": "text", "baseline": "middle", "dy": -22}, "encoding": {"text": {"field": "label"}}},
  {"mark": {"type": "rule", "strokeWidth": 2}, "encoding": {"x": {"value": 1299}, "x2": {"value": 1413}, "y": {"datum": 0, "type": "quantitative", "scale": {"domain": [0, -4000], "range": [551, 499]}, "axis": null}}}
 ]},
{"data": {"name": "est"}, "transform": [{"filter": "datum.cat === 'Arbejdsforhold'"}],
 "encoding": {"x": {"field": "cat", "type": "nominal", "scale": {"range": [1324, 1388], "paddingInner": 0, "paddingOuter": 0}, "axis": null},
  "y": {"field": "est", "type": "quantitative", "scale": {"domain": [0, -4000], "range": [720, 668]}, "axis": null}},
 "layer": [
  {"mark": {"type": "bar", "stroke": "#000", "strokeWidth": 1.5, "fill": {"gradient": "linear", "x1": 0, "y1": 0, "x2": 1, "y2": 1, "stops": [{"offset": 0, "color": "#fff"}, {"offset": 0.02, "color": "#fff"}, {"offset": 0.02, "color": "#222"}, {"offset": 0.05, "color": "#222"}, {"offset": 0.05, "color": "#fff"}, {"offset": 0.0914, "color": "#fff"}, {"offset": 0.0914, "color": "#222"}, {"offset": 0.1214, "color": "#222"}, {"offset": 0.1214, "color": "#fff"}, {"offset": 0.1629, "color": "#fff"}, {"offset": 0.1629, "color": "#222"}, {"offset": 0.1929, "color": "#222"}, {"offset": 0.1929, "color": "#fff"}, {"offset": 0.2343, "color": "#fff"}, {"offset": 0.2343, "color": "#222"}, {"offset": 0.2643, "color": "#222"}, {"offset": 0.2643, "color": "#fff"}, {"offset": 0.3057, "color": "#fff"}, {"offset": 0.3057, "color": "#222"}, {"offset": 0.3357, "color": "#222"}, {"offset": 0.3357, "color": "#fff"}, {"offset": 0.3771, "color": "#fff"}, {"offset": 0.3771, "color": "#222"}, {"offset": 0.4071, "color": "#222"}, {"offset": 0.4071, "color": "#fff"}, {"offset": 0.4486, "color": "#fff"}, {"offset": 0.4486, "color": "#222"}, {"offset": 0.4786, "color": "#222"}, {"offset": 0.4786, "color": "#fff"}, {"offset": 0.52, "color": "#fff"}, {"offset": 0.52, "color": "#222"}, {"offset": 0.55, "color": "#222"}, {"offset": 0.55, "color": "#fff"}, {"offset": 0.5914, "color": "#fff"}, {"offset": 0.5914, "color": "#222"}, {"offset": 0.6214, "color": "#222"}, {"offset": 0.6214, "color": "#fff"}, {"offset": 0.6629, "color": "#fff"}, {"offset": 0.6629, "color": "#222"}, {"offset": 0.6929, "color": "#222"}, {"offset": 0.6929, "color": "#fff"}, {"offset": 0.7343, "color": "#fff"}, {"offset": 0.7343, "color": "#222"}, {"offset": 0.7643, "color": "#222"}, {"offset": 0.7643, "color": "#fff"}, {"offset": 0.8057, "color": "#fff"}, {"offset": 0.8057, "color": "#222"}, {"offset": 0.8357, "color": "#222"}, {"offset": 0.8357, "color": "#fff"}, {"offset": 0.8771, "color": "#fff"}, {"offset": 0.8771, "color": "#222"}, {"offset": 0.9071, "color": "#222"}, {"offset": 0.9071, "color": "#fff"}, {"offset": 0.9486, "color": "#fff"}, {"offset": 0.9486, "color": "#222"}, {"offset": 0.9786, "color": "#222"}, {"offset": 0.9786, "color": "#fff"}, {"offset": 1, "color": "#fff"}]}}},
  {"mark": {"type": "text", "baseline": "middle", "dy": -22}, "encoding": {"text": {"field": "label"}}},
  {"mark": {"type": "rule", "strokeWidth": 2}, "encoding": {"x": {"value": 1299}, "x2": {"value": 1413}, "y": {"datum": 0, "type": "quantitative", "scale": {"domain": [0, -4000], "range": [720, 668]}, "axis": null}}}
 ]},
{"data": {"name": "est"}, "transform": [{"filter": "datum.cat === 'Diverse'"}],
 "encoding": {"x": {"field": "cat", "type": "nominal", "scale": {"range": [1324, 1388], "paddingInner": 0, "paddingOuter": 0}, "axis": null},
  "y": {"field": "est", "type": "quantitative", "scale": {"domain": [0, -4000], "range": [884, 832]}, "axis": null}},
 "layer": [
  {"mark": {"type": "bar", "stroke": "#000", "strokeWidth": 1.5, "fill": {"gradient": "linear", "x1": 0, "y1": 0, "x2": 1, "y2": 1, "stops": [{"offset": 0, "color": "#fff"}, {"offset": 0.02, "color": "#fff"}, {"offset": 0.02, "color": "#222"}, {"offset": 0.05, "color": "#222"}, {"offset": 0.05, "color": "#fff"}, {"offset": 0.0914, "color": "#fff"}, {"offset": 0.0914, "color": "#222"}, {"offset": 0.1214, "color": "#222"}, {"offset": 0.1214, "color": "#fff"}, {"offset": 0.1629, "color": "#fff"}, {"offset": 0.1629, "color": "#222"}, {"offset": 0.1929, "color": "#222"}, {"offset": 0.1929, "color": "#fff"}, {"offset": 0.2343, "color": "#fff"}, {"offset": 0.2343, "color": "#222"}, {"offset": 0.2643, "color": "#222"}, {"offset": 0.2643, "color": "#fff"}, {"offset": 0.3057, "color": "#fff"}, {"offset": 0.3057, "color": "#222"}, {"offset": 0.3357, "color": "#222"}, {"offset": 0.3357, "color": "#fff"}, {"offset": 0.3771, "color": "#fff"}, {"offset": 0.3771, "color": "#222"}, {"offset": 0.4071, "color": "#222"}, {"offset": 0.4071, "color": "#fff"}, {"offset": 0.4486, "color": "#fff"}, {"offset": 0.4486, "color": "#222"}, {"offset": 0.4786, "color": "#222"}, {"offset": 0.4786, "color": "#fff"}, {"offset": 0.52, "color": "#fff"}, {"offset": 0.52, "color": "#222"}, {"offset": 0.55, "color": "#222"}, {"offset": 0.55, "color": "#fff"}, {"offset": 0.5914, "color": "#fff"}, {"offset": 0.5914, "color": "#222"}, {"offset": 0.6214, "color": "#222"}, {"offset": 0.6214, "color": "#fff"}, {"offset": 0.6629, "color": "#fff"}, {"offset": 0.6629, "color": "#222"}, {"offset": 0.6929, "color": "#222"}, {"offset": 0.6929, "color": "#fff"}, {"offset": 0.7343, "color": "#fff"}, {"offset": 0.7343, "color": "#222"}, {"offset": 0.7643, "color": "#222"}, {"offset": 0.7643, "color": "#fff"}, {"offset": 0.8057, "color": "#fff"}, {"offset": 0.8057, "color": "#222"}, {"offset": 0.8357, "color": "#222"}, {"offset": 0.8357, "color": "#fff"}, {"offset": 0.8771, "color": "#fff"}, {"offset": 0.8771, "color": "#222"}, {"offset": 0.9071, "color": "#222"}, {"offset": 0.9071, "color": "#fff"}, {"offset": 0.9486, "color": "#fff"}, {"offset": 0.9486, "color": "#222"}, {"offset": 0.9786, "color": "#222"}, {"offset": 0.9786, "color": "#fff"}, {"offset": 1, "color": "#fff"}]}}},
  {"mark": {"type": "text", "baseline": "middle", "dy": -22}, "encoding": {"text": {"field": "label"}}},
  {"mark": {"type": "rule", "strokeWidth": 2}, "encoding": {"x": {"value": 1299}, "x2": {"value": 1413}, "y": {"datum": 0, "type": "quantitative", "scale": {"domain": [0, -4000], "range": [884, 832]}, "axis": null}}}
 ]}
]
}
